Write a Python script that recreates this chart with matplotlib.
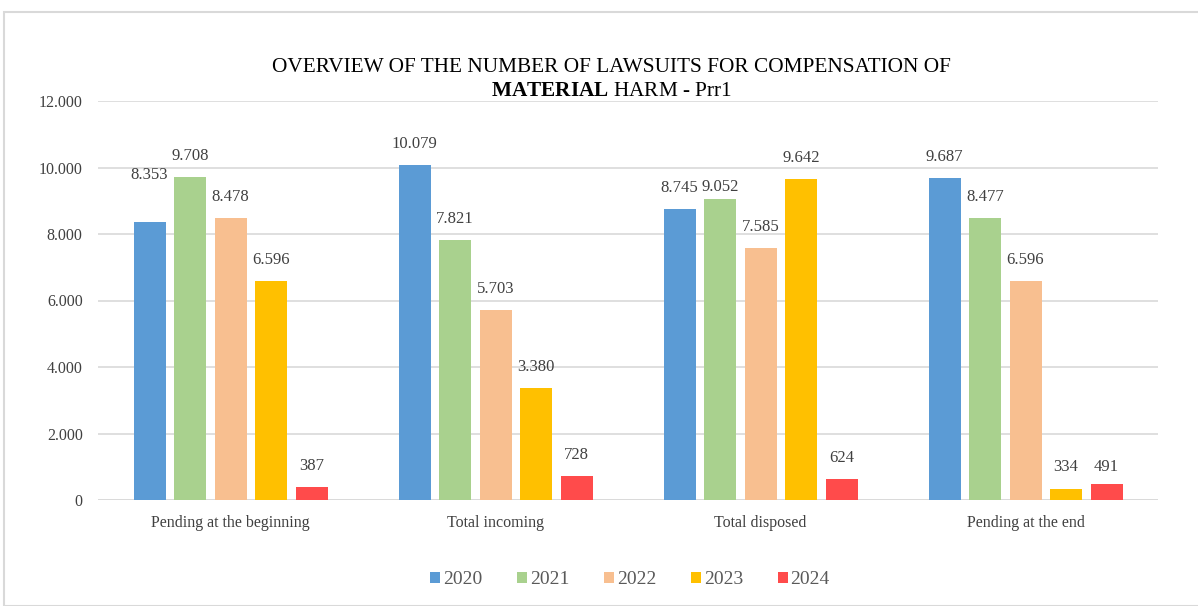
import matplotlib
matplotlib.use("Agg")
import matplotlib.pyplot as plt
from matplotlib.patches import Rectangle
import numpy as np

categories = ["Pending at the beginning", "Total incoming", "Total disposed", "Pending at the end"]
years = ["2020", "2021", "2022", "2023", "2024"]
values = {
    "2020": [8353, 10079, 8745, 9687],
    "2021": [9708, 7821, 9052, 8477],
    "2022": [8478, 5703, 7585, 6596],
    "2023": [6596, 3380, 9642, 334],
    "2024": [387, 728, 624, 491],
}
colors = ["#5B9BD5", "#A9D18E", "#F8BF90", "#FFC000", "#FF4B4B"]
yticks = [0, 2000, 4000, 6000, 8000, 10000, 12000]

# label offsets above bar top (pixels); default 21
label_offsets = {("2020", 0): 47, ("2021", 2): 12, ("2023", 3): 22, ("2024", 3): 17}

def fmt(v):
    return f"{v:,}".replace(",", ".")

plt.rcParams['font.family'] = ['Liberation Serif', 'DejaVu Serif']
plt.rcParams['mathtext.fontset'] = 'custom'
plt.rcParams['mathtext.rm'] = 'Liberation Serif'
plt.rcParams['mathtext.bf'] = 'Liberation Serif:bold'
W, H = 1198, 606
fig = plt.figure(figsize=(W/100, H/100), dpi=100)
ax = fig.add_axes([98/W, 1-500/H, (1158-98)/W, (500-101)/H])

x = np.arange(len(categories))
pitch = 40.5/265
bw = 32/265
for i, yr in enumerate(years):
    off = (i-2)*pitch
    ax.bar(x+off, values[yr], width=bw, color=colors[i], label=yr, zorder=3)
    for j, (xi, v) in enumerate(zip(x+off, values[yr])):
        dy = label_offsets.get((yr, j), 21) * 0.72
        ax.annotate(fmt(v), (xi, v), xytext=(0, dy), textcoords="offset points",
                    ha="center", va="center", fontsize=12, color="#404040")

ax.set_xlim(-0.5, 3.5)
ax.set_ylim(0, 12000)
ax.set_yticks(yticks)
ax.set_yticklabels([fmt(t) for t in yticks], fontsize=11.5, color="#404040")
ax.set_xticks(x)
ax.set_xticklabels(categories, fontsize=11.5, color="#404040")
ax.tick_params(length=0)
ax.tick_params(axis='x', pad=10.5)
ax.tick_params(axis='y', pad=11)
ax.grid(axis='y', color="#D9D9D9", linewidth=1.2, zorder=0)
for s in ax.spines.values():
    s.set_visible(False)
ax.axhline(0, color="#D9D9D9", linewidth=1.2, zorder=2)

fig.text(611/W, 1-68/H, "OVERVIEW OF THE NUMBER OF LAWSUITS FOR COMPENSATION OF",
         ha="center", va="center", fontsize=15.3, color="black")
fig.text(611/W, 1-91/H, r"$\mathbf{MATERIAL}$ HARM - Prr1", ha="center", va="center",
         fontsize=15.3, color="black")

leg = fig.legend(loc="center", bbox_to_anchor=(630/W, 1-580/H), ncol=5, frameon=False,
                 fontsize=14, handlelength=0.5, handleheight=0.5, handletextpad=0.15,
                 columnspacing=1.8)
for t in leg.get_texts():
    t.set_color("#595959")

fig.patches.append(Rectangle((4/W, 0), 1.2, 1-12/H, transform=fig.transFigure,
                             fill=False, edgecolor="#D9D9D9", linewidth=1.5))
fig.savefig("out.png", dpi=100)
